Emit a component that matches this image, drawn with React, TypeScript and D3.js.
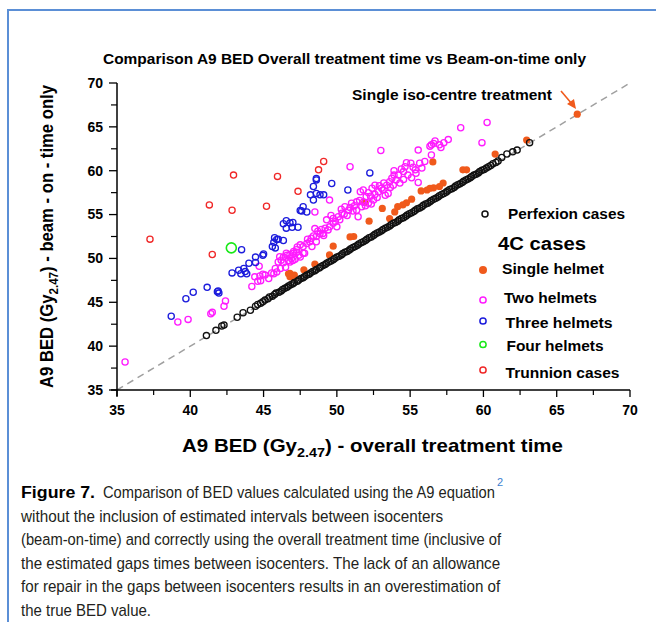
import React, { useLayoutEffect, useRef, useState } from "react";
import * as d3 from "d3";

// values: [overall treatment time BED, beam-on-time BED]
const perfexion: [number, number][] = [
  [41.1, 41.2], [41.75, 41.8], [42.15, 42.3], [42.3, 42.4], [43.2, 43.3], [43.6, 43.8], [44.1, 44.1],
  [44.45, 44.55], [44.6, 44.75], [44.8, 44.9], [44.95, 45.05], [45.1, 45.25], [45.3, 45.4], [45.4, 45.6],
  [45.6, 45.7], [45.75, 45.9], [45.85, 46.05], [46.05, 46.15], [46.2, 46.3], [46.3, 46.45], [46.45, 46.6],
  [46.6, 46.7], [46.7, 46.85], [46.85, 47.0], [47.0, 47.1], [47.1, 47.25], [47.3, 47.4], [47.4, 47.55],
  [47.55, 47.7], [47.7, 47.8], [47.8, 47.95], [47.95, 48.1], [48.1, 48.2], [48.2, 48.35], [48.35, 48.5],
  [48.5, 48.6], [48.6, 48.75], [48.8, 48.9], [48.9, 49.05], [49.05, 49.2], [49.2, 49.3], [49.3, 49.45],
  [49.45, 49.6], [49.6, 49.7], [49.75, 49.85], [49.85, 50.0], [50.0, 50.15], [50.15, 50.25], [50.3, 50.4],
  [50.4, 50.55], [50.55, 50.7], [50.7, 50.8], [50.85, 50.95], [50.95, 51.1], [51.1, 51.25], [51.25, 51.35],
  [51.4, 51.5], [51.5, 51.65], [51.65, 51.8], [51.8, 51.9], [51.95, 52.05], [52.05, 52.2], [52.2, 52.35],
  [52.35, 52.45], [52.5, 52.6], [52.6, 52.75], [52.75, 52.9], [52.9, 53.0], [53.05, 53.15], [53.15, 53.3],
  [53.3, 53.45], [53.45, 53.55], [53.6, 53.7], [53.7, 53.85], [53.85, 54.0], [54.0, 54.1], [54.15, 54.25],
  [54.25, 54.4], [54.4, 54.55], [54.55, 54.65], [54.7, 54.8], [54.8, 54.95], [54.95, 55.1], [55.1, 55.2],
  [55.25, 55.35], [55.35, 55.5], [55.5, 55.65], [55.65, 55.75], [55.8, 55.9], [55.9, 56.05], [56.05, 56.2],
  [56.2, 56.3], [56.35, 56.45], [56.45, 56.6], [56.6, 56.75], [56.75, 56.85], [56.9, 57.0], [57.0, 57.15],
  [57.15, 57.3], [57.3, 57.4], [57.45, 57.55], [57.55, 57.7], [57.7, 57.85], [57.85, 57.95], [58.0, 58.1],
  [58.1, 58.25], [58.25, 58.4], [58.4, 58.5], [58.55, 58.65], [58.65, 58.8], [58.8, 58.95], [58.95, 59.05],
  [59.1, 59.2], [59.2, 59.35], [59.35, 59.5], [59.5, 59.6], [59.65, 59.75], [59.75, 59.9], [59.9, 60.05],
  [60.05, 60.15], [60.2, 60.3], [60.35, 60.45], [60.5, 60.6], [60.65, 60.8], [60.85, 60.95], [61.0, 61.1],
  [61.25, 61.5], [61.6, 61.9], [62.0, 62.15], [62.3, 62.35], [63.15, 63.2],
];

const singleHelmet: [number, number][] = [
  [66.4, 66.45], [62.95, 63.5], [60.8, 61.9], [56.55, 61.0], [58.6, 60.1], [58.85, 60.1], [57.25, 58.6],
  [57.0, 58.2], [56.6, 58.05], [56.35, 58.0], [56.15, 57.8], [55.75, 57.7], [55.1, 56.75], [54.75, 56.35],
  [54.5, 56.1], [54.15, 55.9], [53.95, 55.3], [53.6, 54.55], [53.1, 55.7], [52.2, 54.25], [51.9, 56.4],
  [51.15, 52.5], [50.9, 52.45], [49.75, 51.4], [49.5, 50.4], [48.5, 49.35], [47.75, 48.7], [47.1, 48.1],
  [46.8, 48.3], [46.7, 48.25], [46.8, 47.9], [47.05, 47.85],
];

const twoHelmets: [number, number][] = [
  [35.55, 38.2], [39.15, 42.75], [39.85, 43.05], [41.4, 43.7], [41.5, 43.85], [42.3, 44.55], [42.4, 45.15],
  [44.2, 46.8], [44.4, 47.9], [44.6, 47.4], [44.75, 48.0], [44.8, 47.45], [44.7, 49.1], [44.95, 48.2],
  [45.1, 48.1], [45.35, 47.7], [45.55, 48.35], [45.7, 48.25], [45.8, 48.85], [45.9, 48.45], [46.0, 49.6],
  [46.15, 48.85], [46.2, 49.8], [46.35, 50.15], [46.5, 49.0], [46.6, 50.35], [46.7, 49.75], [46.8, 50.45],
  [47.0, 49.75], [47.05, 50.6], [47.25, 50.7], [47.3, 51.3], [47.4, 50.35], [46.1, 50.2], [46.35, 49.5],
  [46.55, 50.6], [46.8, 49.6], [47.05, 50.8], [47.7, 50.6], [46.9, 50.0], [47.15, 49.9], [47.5, 50.15],
  [47.25, 51.0], [47.5, 51.55], [47.7, 51.35], [47.8, 50.6], [47.95, 51.7], [48.15, 51.9], [48.3, 51.35],
  [48.4, 52.55], [48.6, 52.5], [48.6, 51.9], [48.85, 52.8], [49.05, 52.85], [49.2, 53.45], [49.4, 53.25],
  [49.5, 53.6], [49.3, 54.4], [49.75, 54.0], [49.75, 54.55], [50.0, 53.6], [50.1, 54.75], [50.35, 55.15],
  [50.55, 55.9], [50.8, 55.5], [51.0, 56.3], [51.35, 55.5], [51.35, 56.45], [51.45, 54.75], [51.7, 55.9],
  [52.15, 56.3], [51.6, 57.6], [51.8, 57.8], [52.0, 57.05], [52.15, 57.5], [52.4, 58.0], [52.5, 56.65],
  [52.6, 58.35], [52.75, 56.95], [52.85, 57.6], [53.05, 58.0], [53.4, 58.35], [53.5, 57.4], [53.6, 58.75],
  [53.75, 59.15], [53.85, 58.35], [54.05, 58.95], [54.2, 59.5], [54.55, 59.0], [54.55, 59.9], [54.65, 60.45],
  [54.85, 59.5], [55.05, 60.85], [55.35, 60.1], [55.4, 59.7], [55.55, 58.65], [55.65, 60.85], [56.0, 61.05],
  [55.55, 62.35], [56.35, 62.8], [56.45, 61.8], [56.45, 62.95], [56.6, 63.1], [56.7, 63.4], [57.0, 62.95],
  [57.3, 63.2], [57.1, 62.65], [57.6, 63.55], [58.45, 64.9], [59.9, 63.2], [60.25, 65.5], [53.0, 62.3],
  [50.9, 60.45], [49.5, 56.65], [48.5, 55.3], [48.5, 53.4], [48.0, 52.2], [48.25, 52.3], [48.7, 53.1],
  [48.95, 53.3], [49.1, 52.6], [49.6, 54.9], [49.9, 54.2], [50.2, 54.4], [50.3, 55.6], [50.5, 55.05],
  [50.7, 54.9], [50.9, 55.8], [51.1, 55.4], [51.2, 56.0], [51.55, 56.6], [51.8, 56.4], [51.95, 56.0],
  [52.3, 57.1], [52.35, 56.2], [52.6, 57.3], [52.9, 58.3], [53.15, 57.8], [53.2, 58.6], [53.3, 57.2],
  [53.65, 58.1], [53.9, 59.5], [54.3, 58.6], [54.4, 60.2], [54.75, 60.9], [55.1, 59.2], [55.2, 60.4],
  [55.8, 60.3], [53.9, 60.0],
];

const threeHelmets: [number, number][] = [
  [38.7, 43.4], [39.7, 45.4], [40.2, 46.15], [41.15, 46.7], [41.85, 46.2], [41.95, 46.05], [41.9, 46.3],
  [42.85, 48.35], [43.3, 48.65], [43.45, 48.25], [43.65, 48.85], [43.75, 48.5], [43.85, 48.25], [44.0, 49.45],
  [44.45, 50.15], [44.45, 49.55], [44.95, 50.35], [45.0, 50.5], [43.5, 51.0], [45.6, 51.35], [45.7, 51.85],
  [45.75, 52.35], [45.9, 52.15], [46.0, 52.2], [46.35, 52.05], [45.8, 51.2], [46.35, 53.95], [46.55, 54.3],
  [46.8, 54.05], [47.0, 54.1], [46.55, 53.45], [46.95, 53.55], [47.35, 53.55], [47.5, 55.45], [47.6, 55.4],
  [47.7, 55.9], [47.95, 55.3], [48.2, 57.25], [48.4, 58.2], [48.6, 58.95], [48.6, 57.4], [48.85, 57.25],
  [49.1, 57.25], [48.4, 56.65], [48.6, 59.1], [49.65, 58.55], [50.75, 57.8], [52.25, 59.75],
];

const fourHelmets: [number, number][] = [[42.8, 51.2]];

const trunnion: [number, number][] = [
  [42.95, 59.5], [45.95, 59.35], [47.35, 57.65], [41.3, 56.1], [42.85, 55.5], [45.2, 55.95],
  [37.25, 52.2], [41.5, 50.45], [49.1, 61.05], [48.75, 60.1],
];

const tickValues = [35, 40, 45, 50, 55, 60, 65, 70];
const minorTicks = [37.5, 42.5, 47.5, 52.5, 57.5, 62.5, 67.5];

const legendItems = [
  { label: "Single helmet", color: "#f05a1c", filled: true, cy: 270, tx: 502, ty: 274, w: 102 },
  { label: "Two helmets", color: "#ff1cff", filled: false, cy: 300, tx: 504, ty: 303, w: 93 },
  { label: "Three helmets", color: "#1c1cdc", filled: false, cy: 321, tx: 505.5, ty: 328, w: 107 },
  { label: "Four helmets", color: "#18e818", filled: false, cy: 344.5, tx: 506.5, ty: 351, w: 97 },
  { label: "Trunnion cases", color: "#f02828", filled: false, cy: 370, tx: 505.5, ty: 378, w: 114 },
];

const captionLines = [
  "without the inclusion of estimated intervals between isocenters",
  "(beam-on-time) and correctly using the overall treatment time (inclusive of",
  "the estimated gaps times between isocenters. The lack of an allowance",
  "for repair in the gaps between isocenters results in an overestimation of",
  "the true BED value.",
];
const captionWidths = [422, 480, 479, 479, 130];

const ORANGE = "#f05a1c";
const MAGENTA = "#ff1cff";
const BLUE = "#1c1cdc";
const GREEN = "#18e818";
const RED = "#f02828";
const FONT = "'Liberation Sans', Arial, sans-serif";

// condensed caption text: natural text squeezed horizontally to the measured width
const FitText = (props: { x: number; y: number; width: number; children: any; [k: string]: any }) => {
  const { x, y, width, children, ...rest } = props;
  const ref = useRef<SVGTextElement>(null);
  const [s, setS] = useState(0.8);
  useLayoutEffect(() => {
    if (ref.current) {
      const natural = ref.current.getComputedTextLength();
      if (natural > 0) setS(width / natural);
    }
  }, [width]);
  return (
    <text ref={ref} transform={`translate(${x},${y}) scale(${s},1)`} {...rest}>
      {children}
    </text>
  );
};

const App = () => {
  const x = d3.scaleLinear().domain([35, 70]).range([117, 630]);
  const y = d3.scaleLinear().domain([35, 70]).range([390, 83]);

  const openDots = (data: [number, number][], color: string, r = 3.1, sw = 1.3) =>
    data.map((d, i) => (
      <circle key={i} cx={x(d[0])} cy={y(d[1])} r={r} fill="none" stroke={color} strokeWidth={sw} />
    ));

  return (
    <div style={{ position: "absolute", left: 0, top: 0 }}>
      <svg width={656} height={622} style={{ display: "block", background: "#fff" }}>
        {/* page frame */}
        <line x1={7} y1={10} x2={656} y2={10} stroke="#5b8fd6" strokeWidth={2} />
        <line x1={8} y1={10} x2={8} y2={622} stroke="#5b8fd6" strokeWidth={2} />

        <text x={103} y={64} fontFamily={FONT} fontWeight="bold" fontSize={14}
          textLength={483} lengthAdjust="spacingAndGlyphs">
          Comparison A9 BED Overall treatment time vs Beam-on-time only
        </text>

        {/* identity line */}
        <line x1={x(35)} y1={y(35)} x2={x(70)} y2={y(70)} stroke="#a0a0a0" strokeWidth={1.5} strokeDasharray="7,5" />

        {/* axes */}
        <line x1={x(35)} y1={y(70)} x2={x(35)} y2={396} stroke="#000" strokeWidth={1.5} />
        <line x1={111} y1={y(35)} x2={x(70)} y2={y(35)} stroke="#000" strokeWidth={1.5} />
        {tickValues.map((t) => (
          <g key={"t" + t}>
            <line x1={x(35) - 8} x2={x(35)} y1={y(t)} y2={y(t)} stroke="#000" strokeWidth={1.3} />
            <line x1={x(t)} x2={x(t)} y1={y(35)} y2={y(35) + 7} stroke="#000" strokeWidth={1.3} />
            <text x={103} y={y(t)} dy="0.35em" textAnchor="end" fontFamily={FONT} fontWeight="bold" fontSize={14}>
              {t}
            </text>
            <text x={x(t)} y={415} textAnchor="middle" fontFamily={FONT} fontWeight="bold" fontSize={14}>
              {t}
            </text>
          </g>
        ))}
        {minorTicks.map((t) => (
          <g key={"m" + t}>
            <line x1={x(35) - 6} x2={x(35)} y1={y(t)} y2={y(t)} stroke="#000" strokeWidth={1.2} />
            <line x1={x(t)} x2={x(t)} y1={y(35)} y2={y(35) + 5} stroke="#000" strokeWidth={1.2} />
          </g>
        ))}

        {/* axis titles */}
        <text x={182} y={452} fontFamily={FONT} fontWeight="bold" fontSize={18.5}
          textLength={381} lengthAdjust="spacingAndGlyphs">
          A9 BED (Gy<tspan dy={5} fontSize={13}>2.47</tspan>
          <tspan dy={-5}>)  -  overall treatment time</tspan>
        </text>
        <text
          transform="translate(53,388) rotate(-90)"
          fontFamily={FONT}
          fontWeight="bold"
          fontSize={18}
          textLength={303}
          lengthAdjust="spacingAndGlyphs"
        >
          A9 BED (Gy<tspan dy={5} fontSize={12.5}>2.47</tspan>
          <tspan dy={-5}>)  -  beam - on - time only</tspan>
        </text>

        {/* data */}
        {singleHelmet.map((d, i) => (
          <circle key={"s" + i} cx={x(d[0])} cy={y(d[1])} r={3.6} fill={ORANGE} />
        ))}
        {openDots(perfexion, "#111")}
        {openDots(twoHelmets, MAGENTA)}
        {openDots(threeHelmets, BLUE)}
        {openDots(fourHelmets, GREEN, 5, 1.6)}
        {openDots(trunnion, RED)}

        {/* annotation */}
        <text x={352} y={100} fontFamily={FONT} fontWeight="bold" fontSize={14}
          textLength={200} lengthAdjust="spacingAndGlyphs">
          Single iso-centre treatment
        </text>
        <line x1={561} y1={91} x2={572} y2={104} stroke={ORANGE} strokeWidth={1.6} />
        <polygon points="576,109 567,104 574,99" fill={ORANGE} />

        {/* legend */}
        <g fontFamily={FONT} fontWeight="bold" fontSize={14}>
          <circle cx={485} cy={214} r={3} fill="none" stroke="#111" strokeWidth={1.5} />
          <text x={508} y={219} textLength={117} lengthAdjust="spacingAndGlyphs">Perfexion cases</text>
          <text x={498} y={250} fontSize={18} textLength={88} lengthAdjust="spacingAndGlyphs">4C cases</text>
          {legendItems.map((l) => (
            <g key={l.label}>
              {l.filled ? (
                <circle cx={483} cy={l.cy} r={4} fill={l.color} />
              ) : (
                <circle cx={483} cy={l.cy} r={3.1} fill="none" stroke={l.color} strokeWidth={1.5} />
              )}
              <text x={l.tx} y={l.ty} textLength={l.w} lengthAdjust="spacingAndGlyphs">{l.label}</text>
            </g>
          ))}
        </g>

        {/* caption */}
        <g fontFamily={FONT} fontSize={17} fill="#231f20">
          <FitText x={21} y={498} width={74} fontWeight="bold" fill="#000">Figure 7.</FitText>
          <FitText x={103} y={498} width={392}>Comparison of BED values calculated using the A9 equation</FitText>
          <text x={497} y={486} fontSize={11} fill="#3d7fd0">2</text>
          {captionLines.map((l, i) => (
            <FitText key={i} x={21} y={522 + i * 23.4} width={captionWidths[i]}>
              {l}
            </FitText>
          ))}
        </g>
      </svg>
    </div>
  );
};

export default App;
